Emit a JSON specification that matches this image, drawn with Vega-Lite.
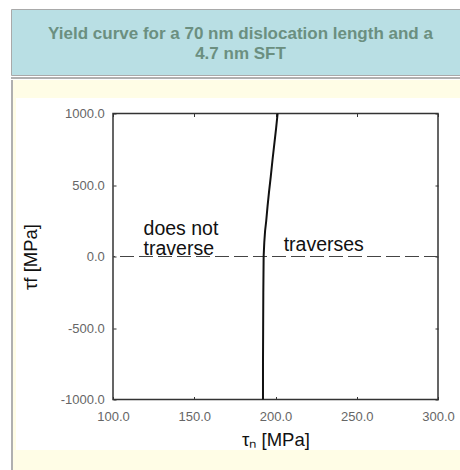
{
  "$schema": "https://vega.github.io/schema/vega-lite/v6.json",
  "background": "white",
  "padding": {"left": 10, "top": 8, "right": 0, "bottom": 0},
  "config": {"view": {"stroke": null}, "font": "Liberation Sans"},
  "spacing": 1,
  "vconcat": [
    {
      "width": 450,
      "height": 66,
      "view": {"fill": "#b9dfe4", "stroke": "#a9a9a9", "strokeWidth": 1},
      "data": {"values": [{"id": 1}]},
      "mark": {
        "type": "text",
        "text": ["Yield curve for a 70 nm dislocation length and a", "4.7 nm SFT"],
        "font": "Liberation Sans",
        "fontSize": 17,
        "fontWeight": "bold",
        "color": "#6b8f80",
        "lineHeight": 20,
        "baseline": "middle",
        "align": "center",
        "dx": 4.5,
        "dy": -8
      }
    },
    {
      "width": 450,
      "height": 2,
      "view": {"fill": "#b0b0b0"},
      "data": {"values": []},
      "mark": "point"
    },
    {
      "spacing": 0,
      "hconcat": [
        {"width": 2, "height": 392, "view": {"fill": "#b0b0b0"}, "data": {"values": []}, "mark": "point"},
        {"width": 3, "height": 392, "view": {"fill": "#fffde6"}, "data": {"values": []}, "mark": "point"},
        {
          "spacing": 0,
          "vconcat": [
            {
              "spacing": 8.5,
              "vconcat": [
                {"width": 445, "height": 18, "view": {"fill": "#fffde6"}, "data": {"values": []}, "mark": "point"},
                {
                  "spacing": 3,
                  "hconcat": [
                    {"width": 1, "height": 1, "data": {"values": []}, "mark": "point"},
                    {
                      "width": 325,
                      "height": 286,
                      "view": {"stroke": "#333333", "strokeWidth": 1.5},
                      "layer": [
                        {
                          "data": {"values": [{"zero": 0}]},
                          "mark": {"type": "rule", "strokeDash": [14, 5], "color": "#444444", "strokeWidth": 1},
                          "encoding": {
                            "y": {"field": "zero", "type": "quantitative", "scale": {"domain": [-1000, 1000], "nice": false}, "axis": null}
                          }
                        },
                        {
                          "data": {
                            "values": [
                              {"tau_n": 192.3, "tau_f": -1000},
                              {"tau_n": 192.3, "tau_f": -750},
                              {"tau_n": 192.4, "tau_f": -500},
                              {"tau_n": 192.5, "tau_f": -250},
                              {"tau_n": 192.7, "tau_f": 0},
                              {"tau_n": 193.1, "tau_f": 100},
                              {"tau_n": 193.6, "tau_f": 180},
                              {"tau_n": 194.3, "tau_f": 250},
                              {"tau_n": 195.1, "tau_f": 350},
                              {"tau_n": 196.0, "tau_f": 450},
                              {"tau_n": 197.1, "tau_f": 560},
                              {"tau_n": 198.2, "tau_f": 680},
                              {"tau_n": 199.4, "tau_f": 800},
                              {"tau_n": 200.4, "tau_f": 900},
                              {"tau_n": 201.3, "tau_f": 1000}
                            ]
                          },
                          "mark": {"type": "line", "color": "#111111", "strokeWidth": 2},
                          "encoding": {
                            "x": {
                              "field": "tau_n", "type": "quantitative",
                              "scale": {"domain": [100, 300], "nice": false, "zero": false},
                              "axis": {
                                "orient": "bottom", "values": [100, 150, 200, 250, 300],
                                "labelExpr": "format(datum.value, '.1f')",
                                "domain": false, "grid": false,
                                "tickSize": -3, "tickColor": "#333333", "tickWidth": 1,
                                "labelPadding": 14, "labelFontSize": 13, "labelColor": "#666666",
                                "labelFlush": false, "labelOverlap": false,
                                "title": "τₙ [MPa]", "titleFontSize": 18.5, "titleFontWeight": "normal",
                                "titleColor": "#111111", "titlePadding": 7
                              }
                            },
                            "y": {
                              "field": "tau_f", "type": "quantitative",
                              "scale": {"domain": [-1000, 1000], "nice": false},
                              "axis": {
                                "orient": "left", "values": [-1000, -500, 0, 500, 1000],
                                "labelExpr": "replace(format(datum.value, '.1f'), '\u2212', '-')",
                                "domain": false, "grid": false,
                                "tickSize": -3, "tickColor": "#333333", "tickWidth": 1,
                                "labelPadding": 11.7, "labelFontSize": 13, "labelColor": "#666666",
                                "labelFlush": false, "labelOverlap": false,
                                "title": "τf [MPa]", "titleFontSize": 18.5, "titleFontWeight": "normal",
                                "titleColor": "#111111", "titlePadding": 19.7
                              }
                            },
                            "order": {"field": "tau_f", "type": "quantitative"}
                          }
                        },
                        {
                          "data": {
                            "values": [
                              {"tau_n": 118.8, "tau_f": 149, "label": "does not"},
                              {"tau_n": 118.8, "tau_f": 9, "label": "traverse"},
                              {"tau_n": 205, "tau_f": 37, "label": "traverses"}
                            ]
                          },
                          "mark": {"type": "text", "align": "left", "baseline": "alphabetic", "fontSize": 19.5, "color": "#111111", "font": "Liberation Sans"},
                          "encoding": {
                            "x": {
                              "field": "tau_n", "type": "quantitative",
                              "scale": {"domain": [100, 300], "nice": false, "zero": false},
                              "axis": {"orient": "top", "values": [100, 150, 200, 250, 300], "labels": false, "domain": false, "grid": false, "tickSize": -3, "tickColor": "#333333", "title": null}
                            },
                            "y": {
                              "field": "tau_f", "type": "quantitative",
                              "scale": {"domain": [-1000, 1000], "nice": false},
                              "axis": {"orient": "right", "values": [-1000, -500, 0, 500, 1000], "labels": false, "domain": false, "grid": false, "tickSize": -3, "tickColor": "#333333", "title": null}
                            },
                            "text": {"field": "label", "type": "nominal"}
                          }
                        }
                      ],
                      "resolve": {
                        "scale": {"x": "independent", "y": "independent"},
                        "axis": {"x": "independent", "y": "independent"}
                      }
                    }
                  ]
                }
              ]
            },
            {"width": 445, "height": 20.5, "view": {"fill": "#fffde6"}, "data": {"values": []}, "mark": "point"}
          ]
        }
      ]
    }
  ]
}
